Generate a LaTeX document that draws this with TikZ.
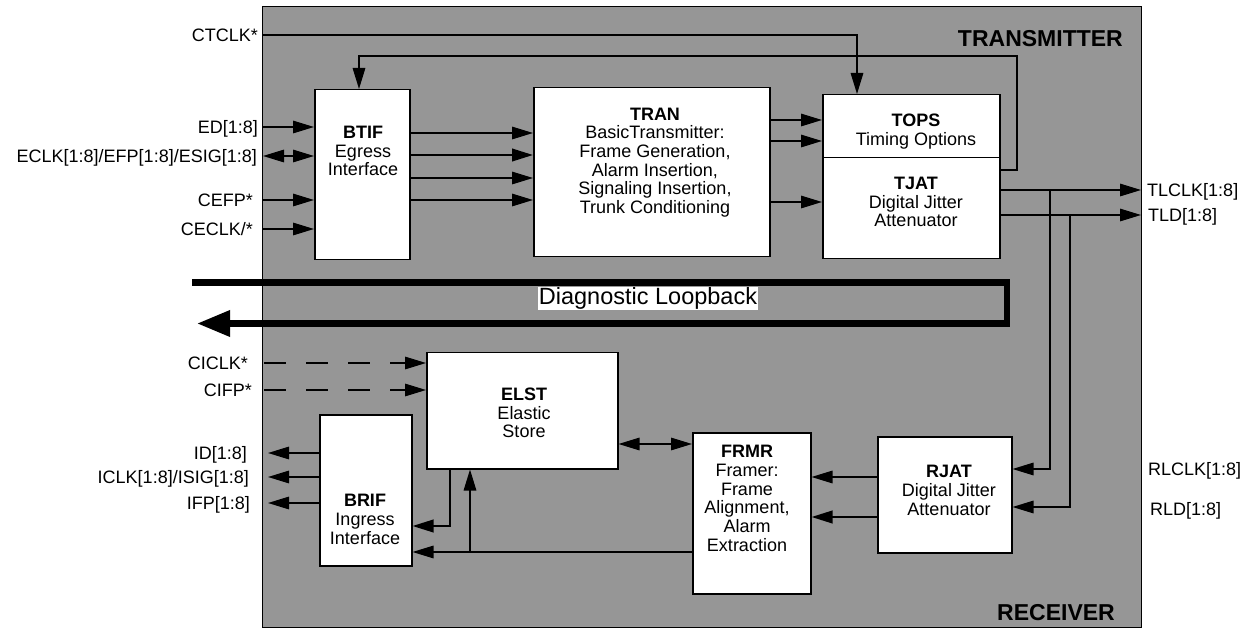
\documentclass[tikz,border=0pt]{standalone}
\usepackage{fontspec}
\setmainfont{Liberation Sans}
\usetikzlibrary{arrows.meta}
\definecolor{chipgray}{RGB}{150,150,150}
\begin{document}
\begin{tikzpicture}[x=1pt,y=-1pt,
  font=\fontsize{18}{18.7}\selectfont,
  blk/.style={draw, fill=white, line width=1.5pt, inner sep=0pt, anchor=north west},
  txt/.style={align=center, inner sep=0pt},
  lbl/.style={inner sep=0pt, anchor=base east},
  rlbl/.style={inner sep=0pt, anchor=base west},
  arr/.style={line width=1.5pt, -{Triangle[length=21pt,width=12.5pt]}},
  tarr/.style={arr, line width=2.3pt},
  dbl/.style={line width=1.5pt, {Triangle[length=21pt,width=12.5pt]}-{Triangle[length=21pt,width=12.5pt]}},
  dsh/.style={arr, dash pattern=on 22pt off 20pt},
  big/.style={font=\fontsize{23}{24}\selectfont\bfseries, inner sep=0pt}]
\useasboundingbox (0,0) rectangle (1251,628);

% chip outline
\node[draw, fill=chipgray, line width=1.2pt, inner sep=0pt, anchor=north west,
      minimum width=879pt, minimum height=621pt] (chip) at (262,6) {};

% blocks
\node[blk, minimum width=95pt,  minimum height=170pt] (btif) at (314,89) {};
\node[blk, minimum width=236pt, minimum height=169pt] (tran) at (533,87) {};
\node[blk, minimum width=177pt, minimum height=63pt]  (tops) at (822,94) {};
\node[blk, minimum width=177pt, minimum height=101pt] (tjat) at (822,157) {};
\node[blk, minimum width=191pt, minimum height=116pt] (elst) at (426,352) {};
\node[blk, minimum width=92pt,  minimum height=151pt] (brif) at (319,414) {};
\node[blk, minimum width=118pt, minimum height=161pt] (frmr) at (692,432) {};
\node[blk, minimum width=134pt, minimum height=116pt] (rjat) at (877,436) {};

% block texts
\node[txt] (btift) at (363,151) {\textbf{BTIF}\\Egress\\Interface};
\node[txt] (trant) at (655,162.5) {\textbf{TRAN}\\BasicTransmitter:\\Frame Generation,\\Alarm Insertion,\\Signaling Insertion,\\Trunk Conditioning};
\node[txt] (topst) at (916,131.5) {\textbf{TOPS}\\Timing Options};
\node[txt] (tjatt) at (916,202) {\textbf{TJAT}\\Digital Jitter\\Attenuator};
\node[txt] (elstt) at (524,413) {\textbf{ELST}\\Elastic\\Store};
\node[txt] (brift) at (365,519.5) {\textbf{BRIF}\\Ingress\\Interface};
\node[txt] (frmrt) at (747,498.5) {\textbf{FRMR}\\Framer:\\Frame\\Alignment,\\Alarm\\Extraction};
\node[txt] (rjatt) at (949,490.5) {\textbf{RJAT}\\Digital Jitter\\Attenuator};

% section titles
\node[big, anchor=base east] (txtitle) at (1123,47) {TRANSMITTER};
\node[big, anchor=base east] (rxtitle) at (1115,620) {RECEIVER};

% diagnostic loopback
\node[fill=white, inner sep=0.5pt, font=\fontsize{23.5}{25}\selectfont] (diag) at (648,298.5) {Diagnostic Loopback};
\coordinate (lbstart) at (192,282.5);
\coordinate (lbend) at (197,323.5);
\draw[line width=6.5pt, -{Triangle[length=33pt,width=25pt]}]
  (lbstart) -- (1007,0 |- lbstart) -- (1007,0 |- lbend) -- (lbend);

% left labels (egress)
\node[lbl] (ctclk) at (258,41.5) {CTCLK*};
\node[lbl] (ed) at (258,133.5) {ED[1:8]};
\node[lbl] (eclk) at (257,162.5) {ECLK[1:8]/EFP[1:8]/ESIG[1:8]};
\node[lbl] (cefp) at (253,206.5) {CEFP*};
\node[lbl] (ceclk) at (253,235.5) {CECLK/*};
% left labels (ingress)
\node[lbl] (ciclk) at (248,369.5) {CICLK*};
\node[lbl] (cifp) at (252,396.5) {CIFP*};
\node[lbl] (id) at (247,459.5) {ID[1:8]};
\node[lbl] (iclk) at (249,483.5) {ICLK[1:8]/ISIG[1:8]};
\node[lbl] (ifp) at (250,509.5) {IFP[1:8]};
% right labels
\node[rlbl] (tlclk) at (1147,196.5) {TLCLK[1:8]};
\node[rlbl] (tld) at (1148,221.5) {TLD[1:8]};
\node[rlbl] (rlclk) at (1148,475.5) {RLCLK[1:8]};
\node[rlbl] (rld) at (1150,515.5) {RLD[1:8]};

% transmitter connections
\coordinate (ctin) at (262,35);
\draw[arr] (ctin) -| (857,0 |- tops.north);
\draw[arr] (tjat.east |- 0,170) -- (1017,170) |- (359,56) -- (359,0 |- btif.north);

\coordinate (edin) at (262,127);
\coordinate (eclkin) at (263,156);
\coordinate (cefpin) at (262,200);
\coordinate (ceclkin) at (262,229);
\draw[arr] (edin) -- (btif.west |- edin);
\draw[dbl] (eclkin) -- (btif.west |- eclkin);
\draw[arr] (cefpin) -- (btif.west |- cefpin);
\draw[arr] (ceclkin) -- (btif.west |- ceclkin);

\draw[arr]  (btif.east |- 0,133) -- (tran.west |- 0,133);
\draw[tarr] (btif.east |- 0,155) -- (tran.west |- 0,155);
\draw[arr]  (btif.east |- 0,178) -- (tran.west |- 0,178);
\draw[arr]  (btif.east |- 0,200) -- (tran.west |- 0,200);

\draw[arr] (tran.east |- 0,120) -- (tops.west |- 0,120);
\draw[arr] (tran.east |- 0,141) -- (tops.west |- 0,141);
\draw[arr] (tran.east |- 0,202) -- (tjat.west |- 0,202);

\coordinate (tlclkout) at (1141,190);
\coordinate (tldout) at (1141,215);
\draw[arr] (tjat.east |- tlclkout) -- (tlclkout);
\draw[arr] (tjat.east |- tldout) -- (tldout);
\draw[arr] (1050,0 |- tlclkout) |- (rjat.east |- 0,469);
\draw[arr] (1070,0 |- tldout) |- (rjat.east |- 0,507);

% receiver connections
\draw[arr]  (rjat.west |- 0,477) -- (frmr.east |- 0,477);
\draw[tarr] (rjat.west |- 0,517) -- (frmr.east |- 0,517);
\draw[dbl]  (elst.east |- 0,444) -- (frmr.west |- 0,444);
\draw[arr]  (frmr.west |- 0,552) -- (brif.east |- 0,552);
\draw[arr]  (470,552) -- (470,0 |- elst.south);
\draw[tarr] (450,0 |- elst.south) |- (brif.east |- 0,526);

\coordinate (ciclkin) at (264,363);
\coordinate (cifpin) at (264,390);
\draw[dsh] (ciclkin) -- (elst.west |- ciclkin);
\draw[dsh] (cifpin) -- (elst.west |- cifpin);

\coordinate (idout) at (268,453);
\coordinate (iclkout) at (268,477);
\coordinate (ifpout) at (268,503);
\draw[arr] (brif.west |- idout) -- (idout);
\draw[arr] (brif.west |- iclkout) -- (iclkout);
\draw[arr] (brif.west |- ifpout) -- (ifpout);
\end{tikzpicture}
\end{document}
